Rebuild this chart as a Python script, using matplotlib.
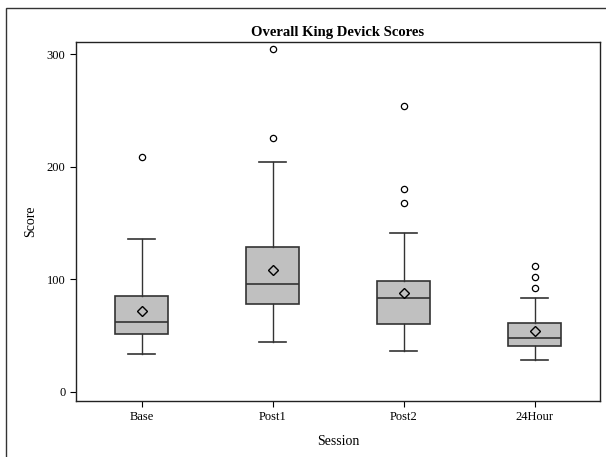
import matplotlib
matplotlib.use("Agg")
import matplotlib.pyplot as plt
from matplotlib.patches import Rectangle

plt.rcParams['font.family'] = ['Liberation Serif', 'DejaVu Serif']

sessions = ["Base", "Post1", "Post2", "24Hour"]
whislo = [34, 44, 36, 28.5]
q1 = [51.5, 78.5, 60.5, 41]
med = [62.5, 96, 83.5, 48]
q3 = [85.5, 129, 99, 61.5]
whishi = [136, 204, 141.5, 83.5]
means = [72, 108.5, 88, 54]
outliers = [[209], [226, 304.5], [168, 180, 254.5], [92.5, 102.5, 112]]

stats = []
for i, name in enumerate(sessions):
    stats.append(dict(label=name, whislo=whislo[i], q1=q1[i], med=med[i], q3=q3[i],
                      whishi=whishi[i], mean=means[i], fliers=outliers[i]))

fig = plt.figure(figsize=(6.06, 4.57), dpi=100)
ax = fig.add_axes([76/606, 1 - 401/457, 524/606, 359/457])

edge = "#333333"
ax.bxp(stats, positions=[1, 2, 3, 4], widths=0.4, capwidths=0.2,
       showmeans=True, patch_artist=True,
       boxprops=dict(facecolor="#c0c0c0", edgecolor=edge, linewidth=1.2),
       medianprops=dict(color=edge, linewidth=1.2),
       whiskerprops=dict(color=edge, linewidth=1.0),
       capprops=dict(color=edge, linewidth=1.2),
       meanprops=dict(marker="D", markerfacecolor="none", markeredgecolor="black",
                      markersize=5.5, markeredgewidth=1.0),
       flierprops=dict(marker="o", markerfacecolor="none", markeredgecolor="black",
                       markersize=4.5, markeredgewidth=0.9))

ax.set_xlim(0.5, 4.5)
ax.set_ylim(-8, 311)
ax.set_yticks([0, 100, 200, 300])
ax.tick_params(labelsize=9, length=4, width=0.8, colors="black")
for s in ax.spines.values():
    s.set_linewidth(1.0)
    s.set_color("#222222")

ax.set_title("Overall King Devick Scores", fontsize=10.5, fontweight="bold", pad=4)
ax.set_xlabel("Session", fontsize=10, labelpad=8)
ax.set_ylabel("Score", fontsize=10, labelpad=7)

fig.patches.append(Rectangle((6/606, -0.1), 1.2, 1 - 8/457 + 0.1, transform=fig.transFigure,
                             fill=False, edgecolor="#333333", linewidth=1.0))

fig.savefig("out.png", dpi=100)
